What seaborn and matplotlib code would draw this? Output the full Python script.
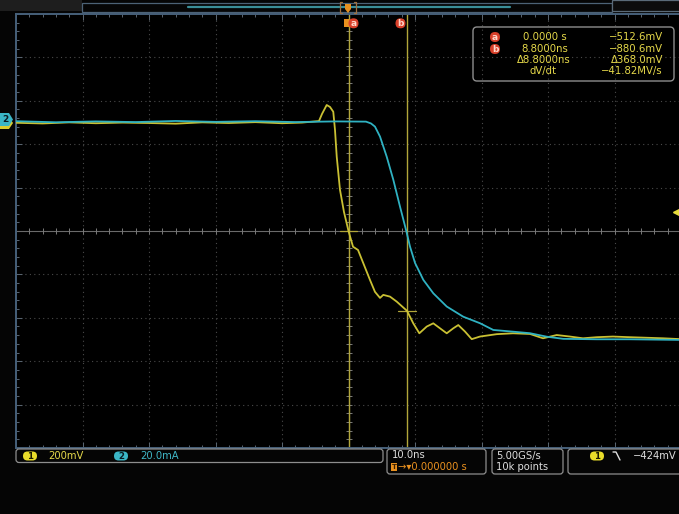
import numpy as np
import pandas as pd
import matplotlib
matplotlib.use("Agg")
import matplotlib.pyplot as plt
from matplotlib.patches import FancyBboxPatch, Polygon, Rectangle
from matplotlib.lines import Line2D
from matplotlib.transforms import Affine2D
import seaborn as sns

# ---- acquisition settings ----
ns_per_div = 10.0
ch1_mv_per_div = 200.0
ch2_ma_per_div = 20.0
ch1_position_div = 2.563
ch2_position_div = 2.52
h_divs = 10
v_divs = 10
trigger_level_mv = -424.0
sample_rate = "5.00GS/s"
record_length = "10k points"
trigger_pos = "0.000000 s"

# ---- cursor readout ----
cursor_a_ns = 0.0
cursor_b_ns = 8.8
cursor_a_mv = -512.6
cursor_b_mv = -880.6
delta_t_ns = 8.8
delta_v_mv = 368.0
dv_dt = -41.82  # MV/s

# ---- channel 1: voltage (mV) ----
ch1_time_ns = [-50, -46, -42, -38, -34, -30, -26, -22, -18, -14, -10, -7,
               -4.44, -3.98, -3.28, -2.78, -2.29, -2.03, -1.77, -1.28, -0.68,
               0.0, 0.68, 1.43, 2.33, 3.23, 3.98, 4.74, 5.23, 6.24, 7.25,
               8.8, 9.74, 10.65, 11.76, 12.75, 13.76, 14.77, 15.76, 16.51,
               17.52, 18.53, 19.77, 22.29, 24.74, 27.29, 29.25, 31.31, 33.3,
               35.26, 37.32, 39.77, 42.33, 47.29, 50]
ch1_mv = [-14, -17, -12, -16, -13, -15, -18, -12, -15, -11, -16, -13,
          -6, 27, 68, 59, 37, -47, -170, -323, -425,
          -512.6, -585, -600, -669, -738, -793, -821, -807, -815, -838,
          -880.6, -938, -984, -953, -938, -961, -984, -961, -946,
          -976, -1011, -999, -988, -984, -987, -1007, -992, -999,
          -1007, -1002, -999, -1002, -1007, -1011]

# ---- channel 2: current (mA) ----
ch2_time_ns = [-50, -44, -38, -32, -26, -20, -14, -8, -2, 2.63, 3.38, 3.98,
               4.74, 5.74, 6.74, 7.74, 8.65, 9.25, 10.0, 11.25, 12.75, 14.77,
               17.26, 19.77, 21.77, 24.78, 27.29, 29.8, 32.3, 37.32, 42.33, 50]
ch2_ma = [0.2, -0.3, 0.1, -0.2, 0.3, -0.1, 0.2, -0.2, 0.1, 0.0, -0.83, -2.3,
          -6.9, -16.1, -26.8, -39.1, -49.9, -57.6, -65.1, -72.9, -79.1, -85.2,
          -89.9, -92.9, -96.0, -96.8, -97.5, -99.1, -100.1, -100.3, -100.3, -100.6]

YELLOW = "#c9c033"
CYAN = "#2fb2c2"
TXT_YEL = "#e6d94a"
TXT_CYAN = "#3fb6c6"
ORANGE = "#e8901f"
CURSOR = "#b2a63a"
RED = "#d9402a"
BOX_EDGE = "#8e8e8e"
WHITE = "#dedede"

sns.set_style("dark", rc={"axes.facecolor": "black", "figure.facecolor": "#050505"})
plt.rcParams["font.family"] = ["DejaVu Sans"]

W, H = 679, 514
fig = plt.figure(figsize=(W / 100, H / 100), dpi=100)
fig.patch.set_facecolor("#050505")
pix = Affine2D().scale(1 / W, -1 / H).translate(0, 1) + fig.transFigure

# graticule area in pixels: x 16..681, y 14..448
gl, gt, gr, gb = 16, 14, 681, 448
ax = fig.add_axes([gl / W, 1 - gb / H, (gr - gl) / W, (gb - gt) / H])
ax.set_facecolor("black")

half_t = h_divs / 2 * ns_per_div
ch1_center = -ch1_position_div * ch1_mv_per_div
ch2_center = -ch2_position_div * ch2_ma_per_div
ax.set_xlim(-half_t, half_t)
ax.set_ylim(ch1_center - v_divs / 2 * ch1_mv_per_div, ch1_center + v_divs / 2 * ch1_mv_per_div)
y0, y1 = ax.get_ylim()

# graticule: dotted division lines
for i in range(1, h_divs):
    xv = -half_t + i * ns_per_div
    if i != h_divs // 2:
        ax.axvline(xv, color="#4a4a4a", lw=0.8, ls=(0, (1, 3)), zorder=0.5)
for j in range(1, v_divs):
    yv = y0 + j * ch1_mv_per_div
    if j != v_divs // 2:
        ax.axhline(yv, color="#4a4a4a", lw=0.8, ls=(0, (1, 3)), zorder=0.5)
# center cross with minor ticks
ax.axhline(ch1_center, color="#6a6a6a", lw=0.8, zorder=0.6)
ax.axvline(0, color="#6a6a6a", lw=0.8, zorder=0.6)
xt = np.arange(-half_t, half_t + 0.01, ns_per_div / 5)
ax.plot(xt, np.full_like(xt, ch1_center), ls="none", marker="|", ms=4,
        mew=0.7, color="#7a7a7a", zorder=0.7)
yt = np.arange(y0, y1 + 0.01, ch1_mv_per_div / 5)
ax.plot(np.zeros_like(yt), yt, ls="none", marker="_", ms=4,
        mew=0.7, color="#7a7a7a", zorder=0.7)

# border ticks
ax.set_xticks(np.arange(-half_t, half_t + 0.01, ns_per_div))
ax.set_xticks(xt, minor=True)
ax.set_yticks(np.arange(y0, y1 + 0.01, ch1_mv_per_div))
ax.set_yticks(yt, minor=True)
ax.tick_params(which="both", direction="in", colors="#5a6672", width=0.7,
               top=True, bottom=True, left=True, right=False,
               labelbottom=False, labelleft=False)
ax.tick_params(which="major", length=4)
ax.tick_params(which="minor", length=2.5)
ax.grid(False)
for side in ("left", "top", "bottom"):
    ax.spines[side].set_color("#46607a")
    ax.spines[side].set_linewidth(1.4)
ax.spines["right"].set_visible(False)
ax.set_xlabel("")
ax.set_ylabel("")

# cursors
ax.axvline(cursor_a_ns, color=CURSOR, lw=1.0, zorder=1.5)
ax.axvline(cursor_b_ns, color=CURSOR, lw=1.0, zorder=1.5)
ax.plot([cursor_b_ns - 1.3, cursor_b_ns + 1.3], [cursor_b_mv] * 2, color=CURSOR, lw=0.9, zorder=1.5)
ax.plot([cursor_a_ns - 1.3, cursor_a_ns + 1.3], [cursor_a_mv] * 2, color=CURSOR, lw=0.9, zorder=1.5)

# channel traces
df1 = pd.DataFrame({"time_ns": ch1_time_ns, "mV": ch1_mv})
sns.lineplot(data=df1, x="time_ns", y="mV", ax=ax, color=YELLOW, lw=1.3,
             estimator=None, sort=False, zorder=3)
ax.set_xlabel("")
ax.set_ylabel("")

ax2 = ax.twinx()
ax2.set_ylim(ch2_center - v_divs / 2 * ch2_ma_per_div, ch2_center + v_divs / 2 * ch2_ma_per_div)
df2 = pd.DataFrame({"time_ns": ch2_time_ns, "mA": ch2_ma})
sns.lineplot(data=df2, x="time_ns", y="mA", ax=ax2, color=CYAN, lw=1.3,
             estimator=None, sort=False, zorder=3)
ax2.set_axis_off()
ax2.set_xlim(-half_t, half_t)

# trigger level arrow on the right edge
ax.plot([half_t - 0.7], [trigger_level_mv], marker="<", ms=5, color="#e8dc3c",
        clip_on=False, zorder=6, ls="none")

# ---- helpers in pixel coordinates ----
def ptext(x, y, s, color=WHITE, size=7.2, ha="left", **kw):
    fig.text(x / W, 1 - y / H, s, color=color, fontsize=size, ha=ha, va="center", **kw)

def pbox(x, y, w, h, ec=BOX_EDGE, fc="none", r=3, lw=0.9, z=5):
    p = FancyBboxPatch((x, y), w, h, boxstyle=f"round,pad=0,rounding_size={r}",
                       transform=pix, ec=ec, fc=fc, lw=lw, zorder=z)
    fig.add_artist(p)

def badge(x, y, s, fc, tc, w=14, h=9, size=6.2):
    p = FancyBboxPatch((x - w / 2, y - h / 2), w, h,
                       boxstyle=f"round,pad=0,rounding_size={h / 2}",
                       transform=pix, ec="none", fc=fc, zorder=6)
    fig.add_artist(p)
    ptext(x, y + 0.3, s, color=tc, size=size, ha="center", fontweight="bold", zorder=7)

def circ(x, y, s):
    badge(x, y, s, RED, "#ffd8cc", w=10, h=10, size=6.5)

# ---- top status bar ----
fig.add_artist(Rectangle((0, 0), 82, 11, transform=pix, fc="#1e1e1e", ec="none", zorder=4))
ptext(2, 5.8, "Tek Run", color="#f0f0f0", size=7.5)
fig.add_artist(Rectangle((82, 2.5), 530, 9.5, transform=pix, fc="none", ec="#4c6276", lw=0.9, zorder=4))
fig.add_artist(Line2D([188, 510], [7.3, 7.3], transform=pix, color="#3a8e98", lw=1.6, zorder=5))
fig.add_artist(Rectangle((612, 0), 70, 11, transform=pix, fc="#0c0c0c", ec="#5a6a78", lw=0.9, zorder=4))
ptext(617, 5.8, "Trig'd", color="#f0f0f0", size=7.5)
# trigger position marker
fig.add_artist(Line2D([342, 340, 340, 342], [2, 2, 13, 13], transform=pix, color="#a07040", lw=0.9, zorder=6))
fig.add_artist(Line2D([354, 356, 356, 354], [2, 2, 13, 13], transform=pix, color="#a07040", lw=0.9, zorder=6))
fig.add_artist(Polygon([(345, 4), (351, 4), (351, 9), (348, 13), (345, 9)], closed=True,
                       transform=pix, fc=ORANGE, ec="none", zorder=6))
fig.add_artist(Rectangle((344, 19), 5, 8, transform=pix, fc=ORANGE, ec="none", zorder=6))
circ(353.5, 23.3, "a")
circ(400.5, 23.3, "b")

# ---- channel ground markers ----
fig.add_artist(Polygon([(0, 117), (9, 117), (13, 123), (9, 129), (0, 129)], closed=True,
                       transform=pix, fc="#d8cc30", ec="none", zorder=6))
fig.add_artist(Polygon([(0, 113), (9, 113), (13, 119.5), (9, 126), (0, 126)], closed=True,
                       transform=pix, fc="#3ab6c6", ec="none", zorder=7))
ptext(5.5, 119.5, "2", color="#0a1a22", size=6.5, ha="center", fontweight="bold", zorder=8)

# ---- cursor readout box ----
def fmt(v):
    return f"{v}".replace("-", "\u2212")

pbox(473, 27, 201, 54, r=4, lw=1.0)
rows = [37, 49, 60, 71]
circ(495, rows[0], "a")
circ(495, rows[1], "b")
ptext(545, rows[0], f"{cursor_a_ns:.4f} s", color=TXT_YEL, size=7.3, ha="center")
ptext(545, rows[1], f"{cursor_b_ns:.4f}ns", color=TXT_YEL, size=7.3, ha="center")
ptext(544, rows[2], f"\u0394{delta_t_ns:.4f}ns", color=TXT_YEL, size=7.3, ha="center")
ptext(543, rows[3], "dV/dt", color=TXT_YEL, size=7.3, ha="center")
ptext(663, rows[0], fmt(f"{cursor_a_mv:.1f}mV"), color=TXT_YEL, size=7.3, ha="right")
ptext(663, rows[1], fmt(f"{cursor_b_mv:.1f}mV"), color=TXT_YEL, size=7.3, ha="right")
ptext(663, rows[2], f"\u0394{delta_v_mv:.1f}mV", color=TXT_YEL, size=7.3, ha="right")
ptext(663, rows[3], fmt(f"{dv_dt:.2f}MV/s"), color=TXT_YEL, size=7.3, ha="right")

# ---- bottom settings bar ----
pbox(16, 449, 367, 13.5)
badge(30, 456, "1", "#e8dc2a", "#1a1a00")
ptext(48, 456, f"{ch1_mv_per_div:.0f}mV", color=TXT_YEL, size=7.2)
badge(121, 456, "2", "#3ab6c6", "#0a1a22")
ptext(140, 456, f"{ch2_ma_per_div:.1f}mA", color=TXT_CYAN, size=7.2)

pbox(387, 449, 99, 25)
ptext(392, 455.5, f"{ns_per_div:.1f}ns", color=WHITE, size=7.2)
fig.add_artist(Rectangle((391, 463), 6, 8, transform=pix, fc=ORANGE, ec="none", zorder=6))
ptext(394, 467, "T", color="#3a2000", size=5, ha="center", fontweight="bold", zorder=7)
ptext(398, 467, "\u2192\u25be" + trigger_pos, color=ORANGE, size=7.2)

pbox(492, 449, 71, 25)
ptext(496, 455.5, sample_rate, color=WHITE, size=7.2)
ptext(496, 467, record_length, color=WHITE, size=7.2)

pbox(568, 449, 125, 25)
badge(597, 456, "1", "#e8dc2a", "#1a1a00")
fig.add_artist(Line2D([613, 616, 620], [452, 452, 460], transform=pix, color=WHITE, lw=1.0, zorder=6))
ptext(677, 456, fmt(f"{trigger_level_mv:.0f}mV"), color=WHITE, size=7.2, ha="right")

fig.savefig("out.png", dpi=100, facecolor=fig.get_facecolor())
